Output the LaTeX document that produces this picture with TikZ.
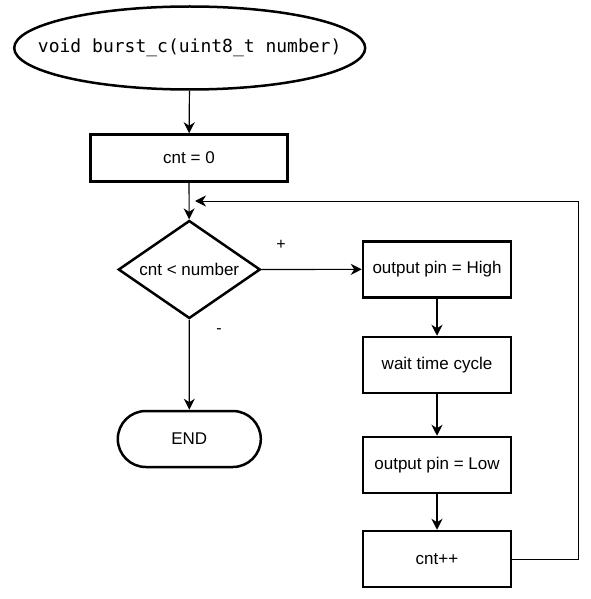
\documentclass[tikz,border=0pt]{standalone}
\usepackage{fontspec}
\setmainfont{Liberation Sans}
\newfontfamily\codefont{DejaVu Sans Mono}
\usetikzlibrary{arrows.meta, shapes.geometric, shapes.misc}

\begin{document}
\begin{tikzpicture}[x=1pt, y=-1pt,
	box/.style={rectangle, draw, line width=2.5pt, inner sep=0pt, minimum width=148pt, minimum height=56pt, font=\fontsize{17}{20}\selectfont},
	flow/.style={line width=1.2pt, -{Stealth[length=11pt, width=11pt, inset=3.5pt]}},
	sign/.style={inner sep=0pt, font=\fontsize{16}{18}\selectfont}]
		\path[use as bounding box, fill=white] (0, 0) rectangle (590, 599);
		\node[ellipse, draw, line width=2.5pt, inner ysep=0pt, inner xsep=-40pt, minimum width=351pt, minimum height=83pt, font=\codefont\fontsize{18}{20}\selectfont] (1) at (189.7, 48) {void burst\_c(uint8\_t number)};
		\node[box, minimum width=197pt, minimum height=47pt] (2) at (189, 158) {cnt = 0};
		\node[diamond, draw, line width=2.5pt, inner sep=0pt, aspect=1.45, minimum width=142pt, minimum height=98pt, font=\fontsize{17}{20}\selectfont] (3) at (189.3, 269.5) {cnt < number};
		\node[rounded rectangle, draw, line width=2.5pt, inner sep=0pt, minimum width=143pt, minimum height=56pt, font=\fontsize{17}{20}\selectfont] (31) at (189.3, 439) {END};
		\node[box] (41) at (437, 269.3) {output pin = High};
		\node[box] (42) at (437, 365) {wait time cycle};
		\node[box] (43) at (437, 465) {output pin = Low};
		\node[box] (44) at (437, 559) {cnt++};
		\node[sign] (plus) at (281, 245) {+};
		\node[sign] (minus) at (219, 331) {-};
		\coordinate (r) at (578, 201);
		\coordinate (back) at (195, 201);
		\draw[flow] (1) -- (2);
		\draw[flow] (2) -- (3);
		\draw[flow] (3) -- (41);
		\draw[flow] (3) -- (31);
		\draw[flow] (41) -- (42);
		\draw[flow] (42) -- (43);
		\draw[flow] (43) -- (44);
		\draw[flow, line width=1pt] (44.east) -| (r) -- (back);
	\end{tikzpicture}
\end{document}
